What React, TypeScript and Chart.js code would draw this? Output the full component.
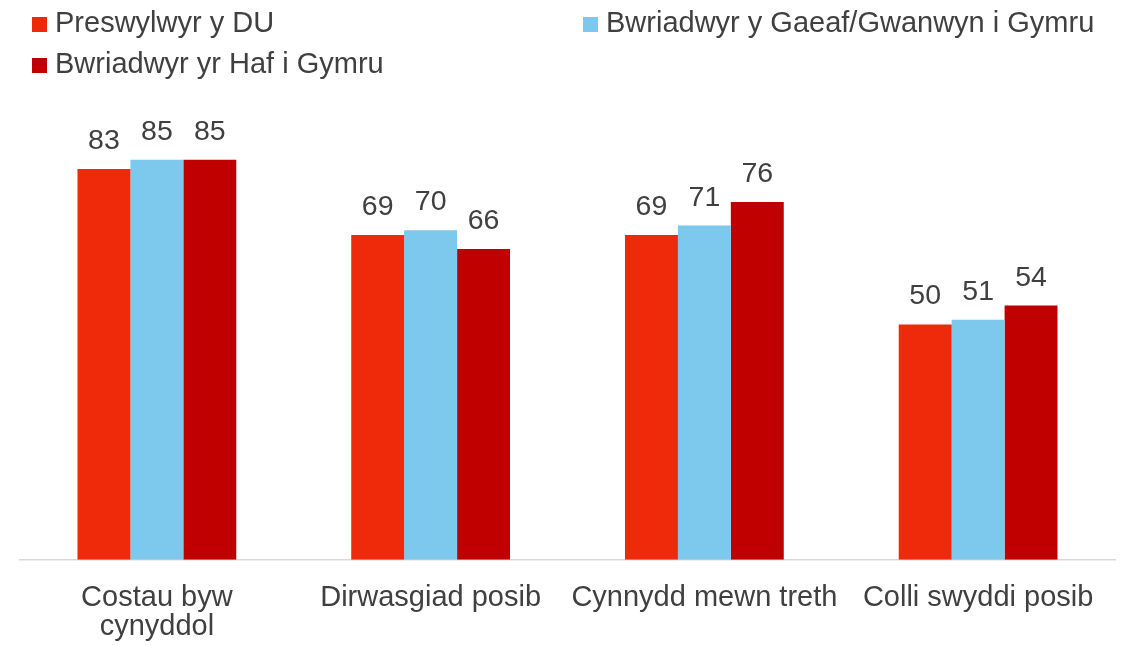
import React, { useEffect, useRef } from "react";
import { Chart, registerables } from "chart.js";

Chart.register(...registerables);

const categories: (string | string[])[] = [
  ["Costau byw", "cynyddol"],
  "Dirwasgiad posib",
  "Cynnydd mewn treth",
  "Colli swyddi posib",
];
const seriesNames = [
  "Preswylwyr y DU",
  "Bwriadwyr y Gaeaf/Gwanwyn i Gymru",
  "Bwriadwyr yr Haf i Gymru",
];
const residentsUK = [83, 69, 69, 50];
const winterSpringVisitors = [85, 70, 71, 51];
const summerVisitors = [85, 66, 76, 54];
const seriesColors = ["#EE2A0B", "#7DC9EE", "#C00000"];

const FONT = "'Liberation Sans', Arial, Helvetica, sans-serif";
const TEXT = "#404040";

const valueLabels = {
  id: "valueLabels",
  afterDatasetsDraw(chart: any) {
    const ctx = chart.ctx;
    ctx.save();
    ctx.font = `28.5px ${FONT}`;
    ctx.fillStyle = TEXT;
    ctx.textAlign = "center";
    ctx.textBaseline = "alphabetic";
    chart.data.datasets.forEach((ds: any, di: number) => {
      const meta = chart.getDatasetMeta(di);
      meta.data.forEach((bar: any, i: number) => {
        ctx.fillText(String(ds.data[i]), bar.x, bar.y - 20);
      });
    });
    ctx.restore();
  },
};

const gridLegend = {
  id: "gridLegend",
  afterDraw(chart: any) {
    const ctx = chart.ctx;
    const colX = [32, 583];
    const rowY = [24.5, 65.5];
    const box = 15;
    ctx.save();
    ctx.font = `29px ${FONT}`;
    ctx.textBaseline = "alphabetic";
    ctx.textAlign = "left";
    chart.data.datasets.forEach((ds: any, i: number) => {
      const x = colX[i % 2];
      const cy = rowY[Math.floor(i / 2)];
      ctx.fillStyle = ds.backgroundColor;
      ctx.fillRect(x, cy - box / 2, box, box);
      ctx.fillStyle = TEXT;
      ctx.fillText(ds.label, x + 23, cy + 7.5);
    });
    ctx.restore();
  },
};

export default function App() {
  const ref = useRef<HTMLCanvasElement | null>(null);

  useEffect(() => {
    if (!ref.current) return;
    const seriesValues = [residentsUK, winterSpringVisitors, summerVisitors];
    const chart = new Chart(ref.current, {
      type: "bar",
      data: {
        labels: categories,
        datasets: seriesNames.map((name, i) => ({
          label: name,
          data: seriesValues[i],
          backgroundColor: seriesColors[i],
          borderWidth: 0,
          categoryPercentage: 0.58,
          barPercentage: 1.0,
        })),
      },
      options: {
        animation: false,
        responsive: false,
        maintainAspectRatio: false,
        layout: { padding: { top: 89, left: 20, right: 12, bottom: 6 } },
        plugins: {
          legend: { display: false },
          tooltip: { enabled: false },
        },
        scales: {
          x: {
            grid: { display: false, drawTicks: false },
            border: { display: true, color: "#D9D9D9", width: 1.5 },
            ticks: {
              color: TEXT,
              padding: 23,
              maxRotation: 0,
              autoSkip: false,
              font: { family: FONT, size: 29, lineHeight: 1.02 },
            },
          },
          y: {
            display: false,
            min: 0,
            max: 100,
          },
        },
      },
      plugins: [valueLabels, gridLegend],
    });
    return () => chart.destroy();
  }, []);

  return (
    <div
      style={{
        position: "fixed",
        left: 0,
        top: 0,
        width: 1127,
        height: 645,
        overflow: "hidden",
        background: "#ffffff",
      }}
    >
      <canvas ref={ref} width={1127} height={671} style={{ display: "block" }} />
    </div>
  );
}
